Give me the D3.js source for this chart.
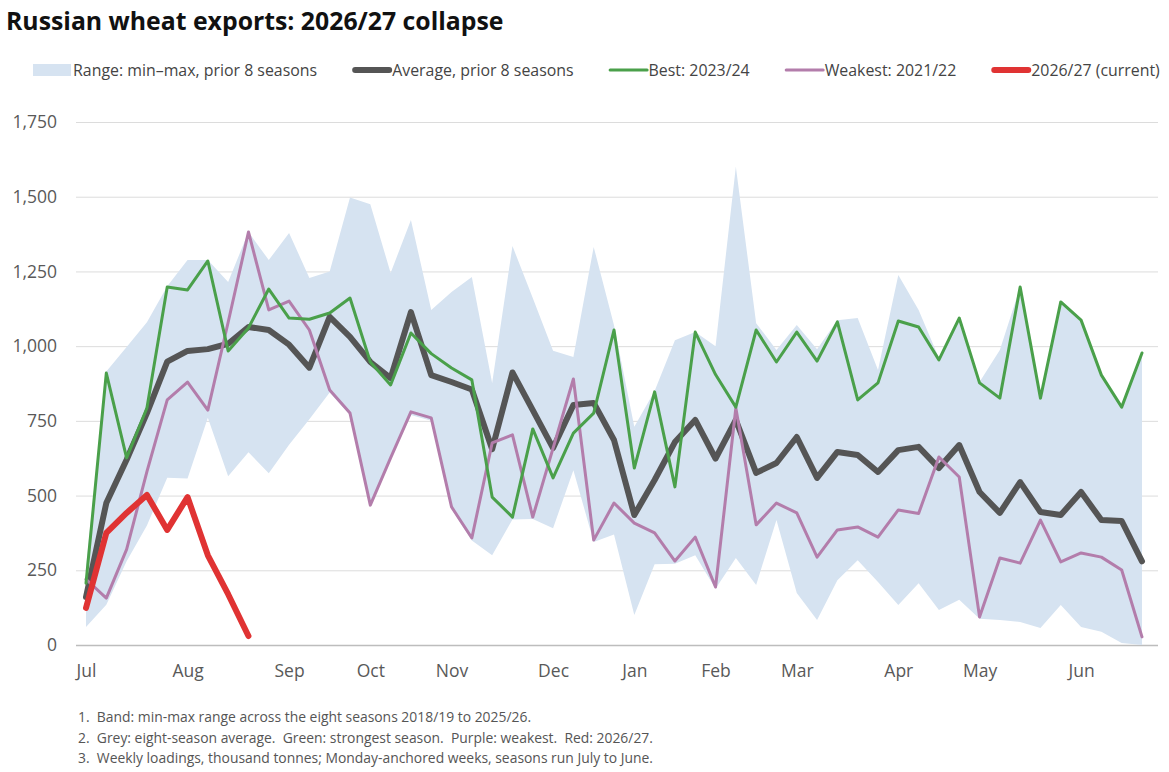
<!DOCTYPE html>
<html>
<head>
<meta charset="utf-8">
<script src="https://cdn.jsdelivr.net/npm/d3@7"></script>
<style>
body { margin: 0; background: #fff; }
text { font-family: 'Open Sans', 'Noto Sans', sans-serif; }
</style>
</head>
<body>
<div id="chart"></div>
<script>
// weekly loadings, thousand tonnes; week 0 = first Monday-anchored week of July
const monthLabels = ['Jul', 'Aug', 'Sep', 'Oct', 'Nov', 'Dec', 'Jan', 'Feb', 'Mar', 'Apr', 'May', 'Jun']
const monthWeeks = [0, 5, 10, 14, 18, 23, 27, 31, 35, 40, 44, 49]
const yTicks = [0, 250, 500, 750, 1000, 1250, 1500, 1750]

const rangeMax = [260, 915, 997, 1080, 1200, 1288, 1288, 1215, 1382, 1288, 1379, 1228, 1250, 1497, 1475, 1245, 1422, 1121, 1181, 1231,
    877, 1335, 1161, 985, 964, 1332, 1070, 730, 850, 1020, 1047, 1000, 1600, 1077, 987, 1071, 990, 1087, 1094, 920,
    1238, 1121, 960, 1094, 880, 987, 1198, 830, 1148, 1087, 903, 796, 977]
const rangeMin = [60, 135, 280, 400, 560, 557, 760, 565, 645, 575, 670, 755, 845, 770, 462, 620, 770, 750, 455, 350,
    300, 420, 422, 391, 585, 345, 370, 100, 270, 272, 300, 188, 291, 201, 418, 174, 84, 217, 284, 211,
    134, 207, 117, 151, 88, 84, 77, 57, 134, 60, 44, 7, 0]
const average = [160, 475, 620, 776, 948, 984, 990, 1008, 1064, 1054, 1005, 928, 1098, 1031, 947, 893, 1114, 903, 880, 855,
    655, 912, 786, 659, 803, 810, 686, 435, 552, 679, 753, 624, 753, 576, 609, 696, 559, 646, 636, 579,
    652, 663, 592, 669, 512, 442, 545, 445, 435, 512, 418, 415, 280]
const best = [207, 910, 626, 793, 1198, 1188, 1285, 984, 1061, 1191, 1094, 1090, 1111, 1161, 947, 870, 1044, 975, 927, 887,
    495, 428, 723, 559, 709, 776, 1054, 592, 847, 529, 1047, 905, 796, 1054, 947, 1047, 950, 1081, 820, 877,
    1084, 1064, 954, 1094, 877, 826, 1198, 826, 1148, 1087, 903, 796, 977]
const weakest = [220, 157, 320, 580, 820, 880, 786, 1080, 1382, 1121, 1151, 1054, 853, 776, 468, 626, 780, 760, 462, 358,
    676, 703, 428, 659, 890, 351, 475, 408, 375, 281, 361, 194, 793, 402, 475, 442, 294, 385, 395, 361,
    452, 440, 629, 562, 94, 291, 274, 418, 278, 308, 294, 251, 27]
const current = [124, 375, 442, 502, 385, 495, 300, 170, 30]

const legendItems = [
    { label: 'Range: min\u2013max, prior 8 seasons', type: 'band', color: '#d6e3f1', width: 12 },
    { label: 'Average, prior 8 seasons', type: 'line', color: '#555555', width: 6 },
    { label: 'Best: 2023/24', type: 'line', color: '#4aa04a', width: 3 },
    { label: 'Weakest: 2021/22', type: 'line', color: '#b37dab', width: 3 },
    { label: '2026/27 (current)', type: 'line', color: '#e03333', width: 6 }
]
const notes = [
    '1.  Band: min-max range across the eight seasons 2018/19 to 2025/26.',
    '2.  Grey: eight-season average.  Green: strongest season.  Purple: weakest.  Red: 2026/27.',
    '3.  Weekly loadings, thousand tonnes; Monday-anchored weeks, seasons run July to June.'
]

let width = 1169
let height = 772
let plotLeft = 76
let plotRight = 1158

let svg = d3.select('#chart').append('svg')
    .attr('width', width)
    .attr('height', height)

let x = d3.scaleLinear()
    .domain([0, rangeMax.length - 1])
    .range([86, 1142])
let y = d3.scaleLinear()
    .domain([0, 1750])
    .range([645, 122])

svg.append('text')
    .attr('x', 6)
    .attr('y', 30)
    .attr('font-size', 24.8)
    .attr('font-weight', 700)
    .attr('fill', '#111')
    .text('Russian wheat exports: 2026/27 collapse')

// legend laid out left to right
let legend = svg.append('g')
    .attr('transform', 'translate(33, 70)')
let cursor = 0
legendItems.forEach(item => {
    let g = legend.append('g')
        .attr('transform', `translate(${cursor}, 0)`)
    if (item.type == 'band') {
        g.append('rect')
            .attr('x', 0)
            .attr('y', -6)
            .attr('width', 38)
            .attr('height', item.width)
            .attr('fill', item.color)
    } else {
        g.append('line')
            .attr('x1', item.width / 2)
            .attr('x2', 40 - item.width / 2)
            .attr('stroke', item.color)
            .attr('stroke-width', item.width)
            .attr('stroke-linecap', 'round')
    }
    let label = g.append('text')
        .attr('x', 40)
        .attr('dominant-baseline', 'central')
        .attr('font-size', 15.9)
        .attr('fill', '#444')
        .text(item.label)
    cursor += 40 + label.node().getComputedTextLength() + 35
})

// grid and y labels
let yAxis = svg.append('g')
    .attr('transform', `translate(${plotLeft}, 0)`)
    .call(d3.axisLeft(y)
        .tickValues(yTicks)
        .tickFormat(d3.format(','))
        .tickSize(-(plotRight - plotLeft))
        .tickPadding(19)
    )
yAxis.select('.domain').remove()
yAxis.selectAll('line')
    .attr('stroke', d => d == 0 ? '#bdbdbd' : '#dcdcdc')
    .attr('stroke-width', d => d == 0 ? 1.5 : 1)
yAxis.selectAll('text')
    .attr('font-size', 17.5)
    .attr('fill', '#595959')
    .attr('font-family', null)

let xAxis = svg.append('g')
    .attr('transform', `translate(0, ${y(0)})`)
    .call(d3.axisBottom(x)
        .tickValues(monthWeeks)
        .tickFormat((d, i) => monthLabels[i])
        .tickSize(0)
        .tickPadding(20)
    )
xAxis.select('.domain').remove()
xAxis.selectAll('text')
    .attr('font-size', 17.5)
    .attr('fill', '#595959')
    .attr('font-family', null)

// band
let area = d3.area()
    .x((d, i) => x(i))
    .y0((d, i) => y(rangeMin[i]))
    .y1(d => y(d))
svg.append('path')
    .datum(rangeMax)
    .attr('d', area)
    .attr('fill', legendItems[0].color)

let line = d3.line()
    .x((d, i) => x(i))
    .y(d => y(d))

let seriesList = [average, best, weakest, current]
let order = [1, 3, 2, 4]
order.forEach(k => {
    let item = legendItems[k]
    let data = seriesList[k - 1]
    svg.append('path')
        .datum(data)
        .attr('d', line)
        .attr('fill', 'none')
        .attr('stroke', item.color)
        .attr('stroke-width', item.width)
        .attr('stroke-linejoin', 'round')
        .attr('stroke-linecap', 'round')
})

svg.append('g')
    .selectAll('text')
    .data(notes)
    .enter()
    .append('text')
        .attr('x', 78)
        .attr('y', (d, i) => 722 + i * 20.5)
        .attr('font-size', 13.9)
        .attr('fill', '#555')
        .attr('xml:space', 'preserve')
        .style('white-space', 'pre')
        .text(d => d)
</script>
</body>
</html>
